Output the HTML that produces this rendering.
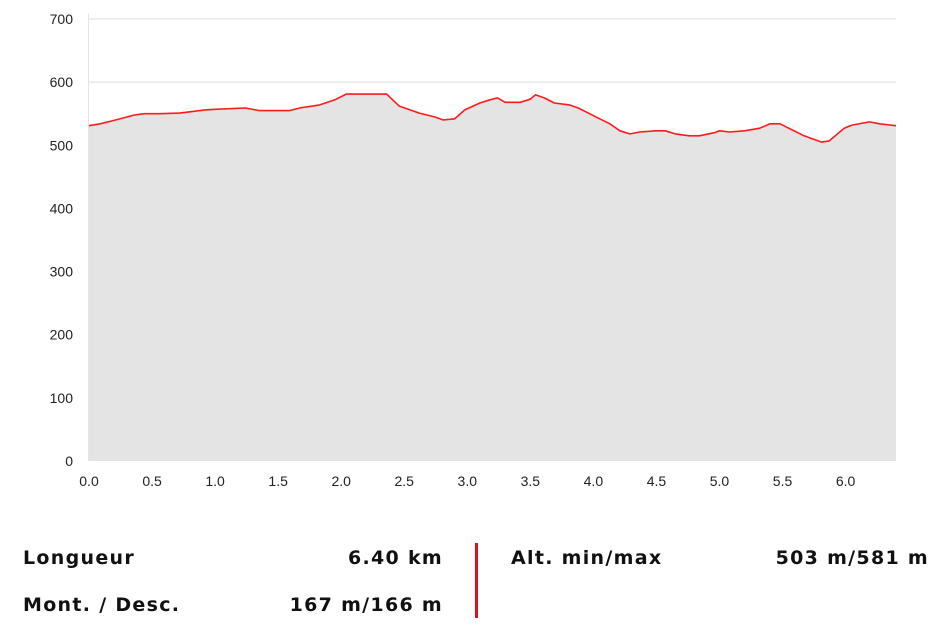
<!DOCTYPE html>
<html><head><meta charset="utf-8"><style>
body{margin:0;background:#fff;width:952px;height:637px;overflow:hidden;font-family:"Liberation Sans",Arial,sans-serif}
svg{position:absolute;left:0;top:0}
.st{position:absolute;font-weight:bold;font-size:19px;color:#111;font-family:"DejaVu Sans",Verdana,sans-serif;letter-spacing:1.3px;white-space:nowrap;line-height:22px}
.r{text-align:right}
</style></head><body>
<svg width="952" height="500">
<g id="grid"></g><g id="area"></g><g id="labels"></g>
</svg>
<div class="st" style="left:23px;top:547px">Longueur</div>
<div class="st r" style="right:509px;top:547px">6.40 km</div>
<div class="st" style="left:23px;top:594px">Mont. / Desc.</div>
<div class="st r" style="right:509px;top:594px">167 m/166 m</div>
<div style="position:absolute;left:475px;top:543px;width:3px;height:75px;background:#d9141c"></div>
<div class="st" style="left:511px;top:547px">Alt. min/max</div>
<div class="st r" style="right:23px;top:547px">503 m/581 m</div>
<script>
const km=[0,0.09,0.21,0.36,0.44,0.56,0.72,0.80,0.92,1.0,1.24,1.35,1.43,1.59,1.67,1.83,1.95,2.04,2.31,2.36,2.46,2.62,2.74,2.81,2.9,2.98,3.1,3.18,3.24,3.3,3.42,3.5,3.54,3.61,3.69,3.81,3.88,3.97,4.05,4.13,4.21,4.29,4.37,4.49,4.57,4.65,4.76,4.84,4.96,5.0,5.08,5.2,5.32,5.4,5.48,5.56,5.67,5.81,5.87,5.99,6.05,6.19,6.27,6.4];
const elev=[531,534,540,548,550,550,551,553,556,557,559,555,555,555,559,564,572,581,581,581,562,551,545,540,542,556,567,572,575,568,568,573,580,575,567,564,559,550,542,534,523,518,521,523,523,518,515,515,520,523,521,523,527,534,534,526,515,505,507,527,532,537,534,531];
const yTicks=[0,100,200,300,400,500,600,700];
const xTicks=[0,0.5,1,1.5,2,2.5,3,3.5,4,4.5,5,5.5,6];
const X0=89,X1=896,Y0=461,Y1=19;
const xs=v=>X0+v*(X1-X0)/6.4, ys=v=>Y0-v*(Y0-Y1)/700;
const NS="http://www.w3.org/2000/svg";
function mk(t,a,p){const e=document.createElementNS(NS,t);for(const k in a)e.setAttribute(k,a[k]);p.appendChild(e);return e;}
const g=document.getElementById('grid'),ar=document.getElementById('area'),lb=document.getElementById('labels');
yTicks.forEach(v=>{if(v>0){const l=mk('line',{x1:X0,x2:X1,y1:ys(v),y2:ys(v),stroke:'#dcdcdc','stroke-width':1},g);

}
const t=mk('text',{x:73,y:ys(v)+5,'text-anchor':'end','font-size':14,fill:'#222','font-family':'Liberation Sans, Arial, sans-serif'},lb);t.textContent=v;

});
const ax=mk('line',{x1:X0-0.5,x2:X0-0.5,y1:Y1-5,y2:Y0,stroke:'#e6e6e6'},g);


xTicks.forEach(v=>{const t=mk('text',{x:xs(v),y:486,'text-anchor':'middle','font-size':14,fill:'#222','font-family':'Liberation Sans, Arial, sans-serif'},lb);t.textContent=v.toFixed(1);

});
let d=km.map((k,i)=>(i?'L':'M')+xs(k).toFixed(1)+','+ys(elev[i]).toFixed(1)).join('');
const a=mk('path',{d:d+`L${xs(6.4)},${Y0}L${X0},${Y0}Z`,fill:'#e4e4e4'},ar);


const ln=mk('path',{d:d,fill:'none',stroke:'#ff1a1a','stroke-width':1.6,'stroke-linejoin':'round'},ar);


</script>
</body></html>
